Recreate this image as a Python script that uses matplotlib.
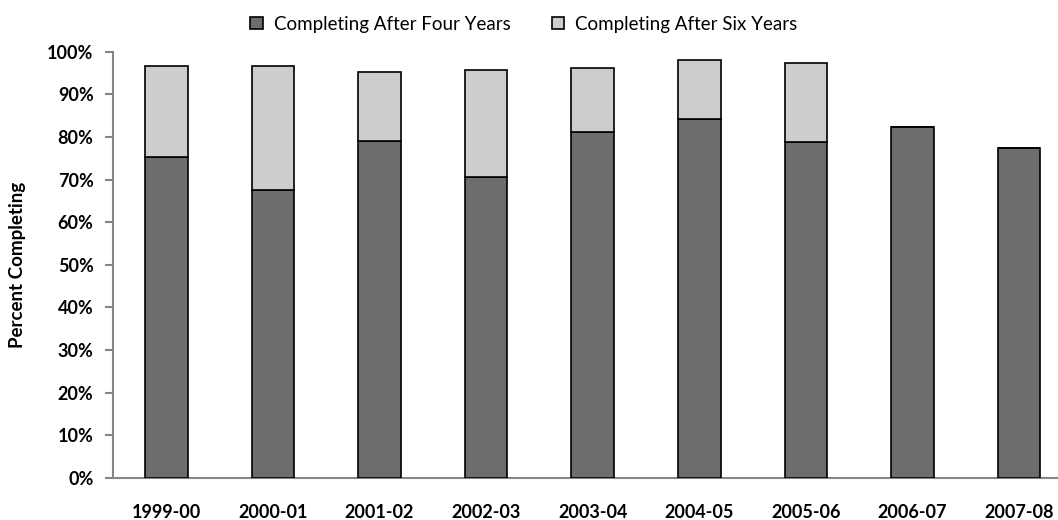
import matplotlib
matplotlib.use("Agg")
import matplotlib.pyplot as plt
import numpy as np
from matplotlib.ticker import PercentFormatter

plt.rcParams['font.family'] = ['Lato', 'DejaVu Sans']

# data
years = ['1999-00', '2000-01', '2001-02', '2002-03', '2003-04',
         '2004-05', '2005-06', '2006-07', '2007-08']
four_years = [75.3, 67.5, 79.1, 70.6, 81.2, 84.2, 78.9, 82.3, 77.5]
six_years = [96.7, 96.6, 95.3, 95.8, 96.2, 98.1, 97.3, None, None]

extra = [(s - f) if s is not None else 0 for f, s in zip(four_years, six_years)]

fig = plt.figure(figsize=(10.58, 5.2), dpi=100)
ax = fig.add_axes([113 / 1058, 1 - 478 / 520, 959.4 / 1058, 426.3 / 520])

x = np.arange(len(years))
ax.bar(x, four_years, width=0.4, color='#6d6d6d', edgecolor='black',
       linewidth=1.2, label='Completing After Four Years', zorder=3)
ax.bar(x, extra, bottom=four_years, width=0.4, color='#cdcdcd', edgecolor='black',
       linewidth=1.2, label='Completing After Six Years', zorder=3)

ax.set_xlim(-0.5, len(years) - 0.5)
ax.set_ylim(0, 100)
ax.set_yticks(np.arange(0, 101, 10))
ax.yaxis.set_major_formatter(PercentFormatter(decimals=0))
ax.set_xticks(x)
ax.set_xticklabels(years)

for s in ['top', 'right']:
    ax.spines[s].set_visible(False)
for s in ['left', 'bottom']:
    ax.spines[s].set_color('#868686')
    ax.spines[s].set_linewidth(1.5)

ax.tick_params(axis='y', length=6, width=1.5, color='#868686', labelsize=13, pad=8)
ax.tick_params(axis='x', length=0, labelsize=13, pad=19)
for lab in ax.get_xticklabels() + ax.get_yticklabels():
    lab.set_fontweight('bold')

fig.text(18 / 1058, 1 - 265 / 520, 'Percent Completing', rotation=90,
         ha='center', va='center', fontsize=13.5, fontweight='bold')

fig.legend(loc='center', bbox_to_anchor=(524 / 1058, 1 - 24 / 520), ncol=2, frameon=False,
           fontsize=13.5, handlelength=0.65, handleheight=0.65, columnspacing=2.2,
           handletextpad=0.6)

fig.savefig('out.png', dpi=100)
